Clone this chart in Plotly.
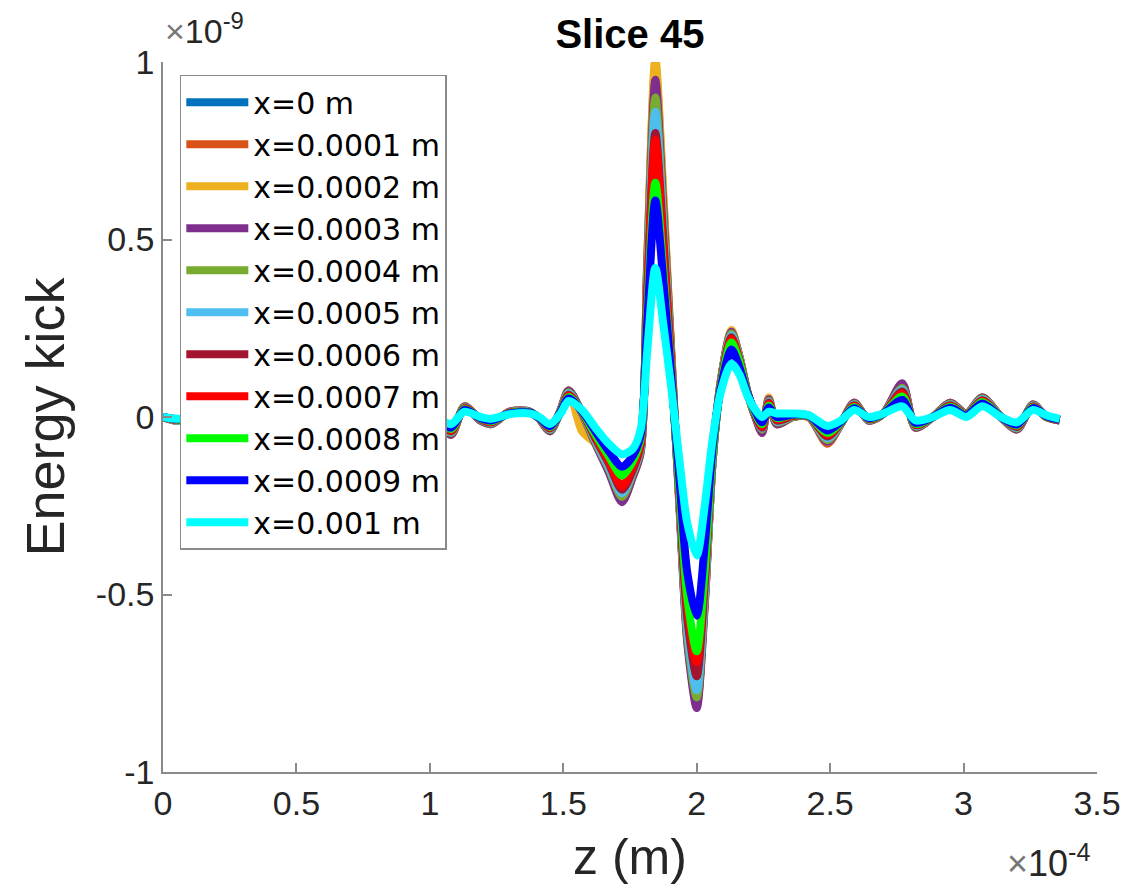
import plotly.graph_objects as go

# longitudinal position, in units of 1e-4 m
z_e4 = [0.00, 0.05, 0.30, 0.60, 0.90, 1.04, 1.08, 1.13, 1.19, 1.23, 1.30, 1.375, 1.41, 1.45, 1.49, 1.52, 1.57,
        1.62, 1.67, 1.72, 1.76, 1.79, 1.815, 1.845, 1.875, 1.905, 1.935, 1.965, 2.00, 2.03, 2.06,
        2.09, 2.13, 2.16, 2.19, 2.22,
        2.245, 2.27, 2.30, 2.36, 2.42, 2.49, 2.54, 2.59, 2.645, 2.70, 2.77, 2.82, 2.885, 2.95, 3.01, 3.07,
        3.14, 3.20, 3.26, 3.31, 3.36]

# energy kick, in units of 1e-9, one list per transverse offset
kick_x0 = [0, -0.01, 0, 0, 0, -0.03, -0.05, 0.03, -0.01, -0.02, 0.015, 0.015, -0.005, -0.04, 0.02, 0.075, 0.01,
           -0.07, -0.145, -0.23, -0.165, -0.095, 0.44, 0.97, 0.60, 0.17, -0.24, -0.62, -0.80, -0.52, -0.12,
           0.10, 0.24, 0.17, 0.07, 0.00,
           -0.04, 0.05, -0.02, 0.0, 0.0, -0.07, -0.02, 0.04, -0.01, 0.01, 0.09, -0.03, 0.0, 0.04, 0.01, 0.055,
           0.0, -0.035, 0.035, 0.0, -0.01]
kick_x1 = [0, -0.01, 0, 0, 0, -0.03, -0.05, 0.03, -0.01, -0.02, 0.015, 0.015, -0.005, -0.04, 0.02, 0.075, 0.005,
           -0.07, -0.145, -0.23, -0.165, -0.095, 0.45, 0.99, 0.61, 0.18, -0.24, -0.63, -0.81, -0.53, -0.12,
           0.10, 0.24, 0.17, 0.07, 0.00,
           -0.045, 0.05, -0.02, 0.0, 0.0, -0.075, -0.02, 0.04, -0.01, 0.01, 0.09, -0.03, 0.0, 0.04, 0.01, 0.055,
           0.0, -0.035, 0.035, 0.0, -0.01]
kick_x2 = [0, -0.01, 0, 0, 0, -0.03, -0.05, 0.03, -0.01, -0.02, 0.015, 0.015, -0.005, -0.04, 0.02, 0.075, -0.04,
           -0.075, -0.15, -0.235, -0.17, -0.10, 0.46, 1.01, 0.63, 0.18, -0.24, -0.62, -0.80, -0.52, -0.12,
           0.10, 0.245, 0.17, 0.07, 0.00,
           -0.04, 0.055, -0.02, 0.0, 0.0, -0.07, -0.02, 0.04, -0.01, 0.01, 0.09, -0.03, 0.0, 0.04, 0.01, 0.055,
           0.0, -0.035, 0.035, 0.0, -0.01]
kick_x3 = [0, -0.01, 0, 0, 0, -0.03, -0.05, 0.03, -0.01, -0.02, 0.015, 0.015, -0.005, -0.04, 0.02, 0.075, 0.01,
           -0.075, -0.155, -0.24, -0.17, -0.10, 0.43, 0.95, 0.59, 0.17, -0.25, -0.64, -0.82, -0.53, -0.12,
           0.10, 0.24, 0.17, 0.07, 0.00,
           -0.045, 0.05, -0.02, 0.0, 0.0, -0.07, -0.02, 0.04, -0.01, 0.01, 0.095, -0.03, 0.0, 0.04, 0.01, 0.055,
           0.0, -0.035, 0.035, 0.0, -0.01]
kick_x4 = [0, -0.01, 0, 0, 0, -0.025, -0.045, 0.028, -0.008, -0.018, 0.014, 0.014, -0.004, -0.036, 0.018, 0.07, 0.012,
           -0.07, -0.145, -0.225, -0.16, -0.09, 0.41, 0.90, 0.56, 0.16, -0.24, -0.62, -0.79, -0.51, -0.12,
           0.10, 0.235, 0.17, 0.07, 0.005,
           -0.035, 0.045, -0.015, 0.0, 0.0, -0.065, -0.02, 0.037, -0.008, 0.01, 0.082, -0.027, 0.0, 0.037, 0.008, 0.052,
           0.0, -0.032, 0.033, 0.0, -0.01]
kick_x5 = [0, -0.01, 0, 0, 0, -0.024, -0.042, 0.026, -0.007, -0.016, 0.013, 0.014, -0.004, -0.034, 0.017, 0.066, 0.013,
           -0.065, -0.14, -0.215, -0.155, -0.085, 0.39, 0.86, 0.53, 0.15, -0.23, -0.60, -0.77, -0.50, -0.12,
           0.095, 0.23, 0.165, 0.07, 0.005,
           -0.032, 0.042, -0.013, 0.002, 0.001, -0.06, -0.018, 0.035, -0.007, 0.01, 0.077, -0.025, 0.0, 0.035, 0.008, 0.05,
           0.0, -0.03, 0.032, 0.001, -0.009]
kick_x6 = [0, -0.008, 0, 0, 0, -0.022, -0.04, 0.025, -0.006, -0.015, 0.012, 0.013, -0.003, -0.032, 0.016, 0.063, 0.014,
           -0.06, -0.13, -0.205, -0.15, -0.08, 0.36, 0.80, 0.50, 0.14, -0.22, -0.57, -0.73, -0.47, -0.11,
           0.09, 0.225, 0.16, 0.07, 0.005,
           -0.03, 0.04, -0.01, 0.003, 0.002, -0.055, -0.017, 0.033, -0.006, 0.01, 0.072, -0.023, 0.0, 0.033, 0.007, 0.047,
           0.0, -0.028, 0.03, 0.001, -0.009]
kick_x7 = [0, -0.008, 0, 0, 0, -0.02, -0.038, 0.024, -0.005, -0.014, 0.012, 0.013, -0.003, -0.03, 0.015, 0.06, 0.015,
           -0.055, -0.125, -0.195, -0.14, -0.075, 0.35, 0.78, 0.48, 0.14, -0.21, -0.54, -0.69, -0.45, -0.10,
           0.09, 0.22, 0.16, 0.065, 0.01,
           -0.027, 0.037, -0.007, 0.004, 0.002, -0.05, -0.016, 0.031, -0.005, 0.01, 0.066, -0.021, 0.0, 0.031, 0.006, 0.045,
           0.0, -0.026, 0.029, 0.002, -0.008]
kick_x8 = [0, -0.007, 0, 0, 0, -0.018, -0.034, 0.022, -0.004, -0.012, 0.011, 0.012, -0.002, -0.028, 0.014, 0.056, 0.016,
           -0.05, -0.11, -0.165, -0.125, -0.06, 0.30, 0.66, 0.41, 0.12, -0.20, -0.51, -0.66, -0.43, -0.10,
           0.085, 0.21, 0.155, 0.065, 0.01,
           -0.02, 0.032, -0.003, 0.006, 0.003, -0.045, -0.015, 0.028, -0.004, 0.01, 0.058, -0.019, 0.0, 0.029, 0.005, 0.042,
           0.0, -0.024, 0.027, 0.002, -0.007]
kick_x9 = [0, -0.006, 0, 0, 0, -0.015, -0.03, 0.02, -0.003, -0.01, 0.01, 0.012, -0.002, -0.026, 0.013, 0.052, 0.017,
           -0.04, -0.095, -0.14, -0.11, -0.05, 0.27, 0.61, 0.38, 0.11, -0.17, -0.44, -0.56, -0.36, -0.08,
           0.08, 0.19, 0.14, 0.065, 0.015,
           -0.015, 0.027, 0.0, 0.007, 0.004, -0.038, -0.013, 0.025, -0.003, 0.01, 0.048, -0.016, 0.0, 0.026, 0.004, 0.038,
           0.0, -0.021, 0.025, 0.003, -0.007]
kick_x10 = [0, -0.005, 0, 0, 0, -0.01, -0.02, 0.015, 0.0, -0.005, 0.008, 0.01, 0.0, -0.02, 0.01, 0.045, 0.02,
            -0.03, -0.075, -0.105, -0.09, -0.035, 0.19, 0.42, 0.26, 0.08, -0.12, -0.30, -0.39, -0.25, -0.06,
            0.07, 0.15, 0.12, 0.06, 0.02,
            0.0, 0.015, 0.01, 0.01, 0.005, -0.025, -0.01, 0.02, 0.0, 0.01, 0.03, -0.01, 0.0, 0.02, 0.0, 0.03,
            0.0, -0.015, 0.02, 0.005, -0.005]

series_names = ["x=0 m", "x=0.0001 m", "x=0.0002 m", "x=0.0003 m", "x=0.0004 m", "x=0.0005 m",
                "x=0.0006 m", "x=0.0007 m", "x=0.0008 m", "x=0.0009 m", "x=0.001 m"]
series_values = [kick_x0, kick_x1, kick_x2, kick_x3, kick_x4, kick_x5,
                 kick_x6, kick_x7, kick_x8, kick_x9, kick_x10]
series_colors = ["#0072BD", "#D95319", "#EDB120", "#7E2F8E", "#77AC30", "#4DBEEE",
                 "#A2142F", "#FF0000", "#00FF00", "#0000FF", "#00FFFF"]

x_tick_vals = [0, 0.5, 1, 1.5, 2, 2.5, 3, 3.5]
x_tick_text = ["0", "0.5", "1", "1.5", "2", "2.5", "3", "3.5"]
y_tick_vals = [-1, -0.5, 0, 0.5, 1]
y_tick_text = ["-1", "-0.5", "0", "0.5", "1"]

FONT = "Liberation Sans, Arial, Helvetica, sans-serif"
INK = "#262626"
AXIS = "#8a8a8a"

fig = go.Figure()
for name, vals, col in zip(series_names, series_values, series_colors):
    fig.add_trace(go.Scatter(
        x=z_e4, y=vals, name=name, mode="lines",
        line=dict(color=col, width=8, shape="spline", smoothing=0.8),
    ))

fig.update_layout(
    width=1146, height=891,
    margin=dict(l=163, r=49, t=62, b=119),
    paper_bgcolor="white", plot_bgcolor="white",
    font=dict(family=FONT, color=INK),
    title=dict(text="<b>Slice 45</b>", x=0.5497, xanchor="center", y=0.962, yanchor="middle",
               font=dict(size=40, color="black")),
    showlegend=True,
    legend=dict(x=0.018, y=0.982, xanchor="left", yanchor="top",
                bgcolor="white", bordercolor=AXIS, borderwidth=1.5,
                font=dict(family="DejaVu Sans, sans-serif", size=30, color="black"),
                itemwidth=62, tracegroupgap=0),
    xaxis=dict(range=[0, 3.5], tickmode="array", tickvals=x_tick_vals, ticktext=x_tick_text,
               ticks="inside", ticklen=9, tickwidth=1.5, tickcolor=AXIS,
               showline=True, linecolor=AXIS, linewidth=1.5, showgrid=False, zeroline=False,
               tickfont=dict(size=34, color=INK),
               title=dict(text="z (m)", font=dict(size=50, color=INK), standoff=18)),
    yaxis=dict(range=[-1, 1], tickmode="array", tickvals=y_tick_vals, ticktext=y_tick_text,
               ticks="inside", ticklen=9, tickwidth=1.5, tickcolor=AXIS,
               showline=True, linecolor=AXIS, linewidth=1.5, showgrid=False, zeroline=False,
               tickfont=dict(size=34, color=INK),
               title=dict(text="Energy kick", font=dict(size=54, color=INK), standoff=14)),
)

# axis multipliers
fig.add_annotation(text="<span style='color:#777'>×</span>10<sup>-9</sup>", xref="paper", yref="paper",
                   x=0.0, y=1.047, xanchor="left", yanchor="middle", showarrow=False,
                   font=dict(size=34, color=INK))
fig.add_annotation(text="<span style='color:#777'>×</span>10<sup>-4</sup>", xref="paper", yref="paper",
                   x=0.995, y=-0.125, xanchor="right", yanchor="middle", showarrow=False,
                   font=dict(size=36, color=INK))

fig.write_html("out.html")
